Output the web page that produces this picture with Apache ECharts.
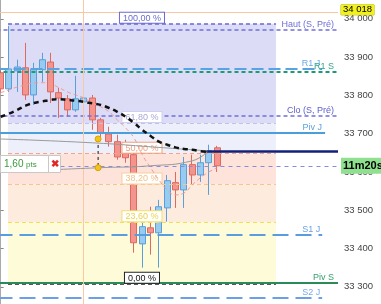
<!DOCTYPE html>
<html><head><meta charset="utf-8">
<script src="https://cdn.jsdelivr.net/npm/echarts@6/dist/echarts.min.js"></script>
<style>html,body{margin:0;padding:0;background:#fff}#c{width:381px;height:304px}</style>
</head><body><div id="c"></div><script>
// ---------- data ----------
const slotCount = 41;
const slots = Array.from({length: slotCount}, (_, i) => 'b' + i);
const yTicks = [33300, 33400, 33500, 33600, 33700, 33800, 33900, 34000];
// [open, close, low, high]
const candles = [
 [33859,33817,33807,33872],
 [33817,33869,33809,33981],
 [33864,33874,33809,33893],
 [33872,33801,33788,33937],
 [33801,33867,33775,33885],
 [33867,33893,33835,33911],
 [33887,33809,33780,33911],
 [33807,33793,33741,33820],
 [33791,33762,33744,33801],
 [33762,33791,33757,33851],
 [33783,33793,33778,33796],
 [33793,33736,33710,33801],
 [33736,33702,33689,33741],
 [33699,33679,33666,33718],
 [33679,33639,33632,33697],
 [33663,33637,33624,33684],
 [33645,33415,33389,33658],
 [33412,33457,33350,33470],
 [33454,33441,33384,33509],
 [33441,33509,33350,33527],
 [33506,33577,33470,33592],
 [33572,33553,33506,33600],
 [33553,33619,33506,33639],
 [33619,33592,33566,33645],
 [33592,33624,33574,33645],
 [33624,33655,33540,33671],
 [33663,33616,33600,33668]
];
const maBlack = [33744,33752,33762,33773,33780,33784,33788,33790,33788,33786,33783,33779,33775,33767,33757,33744,33728,33710,33694,33679,33671,33664,33660,33658,33654,33652];
const maPink  = [33807,33814,33822,33827,33833,33833,33830,33820,33809,33801,33793,33780,33770,33757,33736,33715,33689,33645,33611,33579,33553,33540,33545,33566,33585,33600,33611];
const trendA = [[0,33686],[11,33676],[19,33664],[24.8,33655]];
const trendB = [[5.5,33605],[12,33611],[18,33616],[23,33629],[24.8,33652]];
const levelNames  = ['Haut (S, Pré)','R1 J','R1 S','Clo (S, Pré)','Piv J','S1 J','Piv S','S2 J'];
const levelValues = [33971,33869,33861,33746,33702,33436,33310,33271];
const fibHigh = 33987, fibLow = 33308;
const fibRatios = [1,0.618,0.5,0.382,0.236,0];
const fibLabels = ['100,00 %','61,80 %','50,00 %','38,20 %','23,60 %','0,00 %'];
const fibFrom = 0.88, fibTo = 33.05;
const crossX = 9.9, crossPrice = 34018;
const currentPrice = 33616, countdown = '11m20s';
const navyLevel = 33655, navyFrom = 24.5;
const measureX = 11.7, measureFrom = 33686, measureTo = 33611;
const measureText = '1,60';

// ---------- styles ----------
const fmt = v => String(v).replace(/\B(?=(\d{3})+(?!\d))/g, ' ');
const FONT = 'Arial, "Liberation Sans", sans-serif';
const levelStyle = {
 'Haut (S, Pré)': {color:'#6f6fd8', type:[4,3], width:1.5, end:40.5, lc:'#6f6fd8', d:4},
 'R1 J': {color:'#5aa2e0', type:[12,5], width:2, end:38.6, lc:'#6aa8e6', d:2},
 'R1 S': {color:'#1f9a78', type:[4,3], width:2, end:40.5, lc:'#33a884', d:4},
 'Clo (S, Pré)': {color:'#6f6fd8', type:[4,3], width:1.5, end:40.5, lc:'#6060d0', d:4},
 'Piv J': {color:'#4a9edc', type:'solid', width:2, end:38.95, lc:'#5aa2e0', d:3},
 'S1 J': {color:'#5b9be0', type:[16,7], width:2, end:38.6, lc:'#6aa0e6', d:2},
 'Piv S': {color:'#2a8a5a', type:'solid', width:2, end:40.5, lc:'#34a070', d:4},
 'S2 J': {color:'#6d9fe6', type:[16,7], width:2, end:38.6, lc:'#7aa8ea', d:2}
};
const fibLine = [
 {c:'#6a6ad4', t:'#6a6ad4', b:'#6a6ad4', fill:'#dcdcf6'},
 {c:'#c0c0ea', t:'#a8a8d8', b:'#d0d0f0', fill:'#edf0fb'},
 {c:'#f3a488', t:'#f0a07c', b:'#f0a07c', fill:'#fde3da'},
 {c:'#f5c58e', t:'#f2c184', b:'#f5cf9a', fill:'#fdebdd'},
 {c:'#eede5a', t:'#e8d448', b:'#efe070', fill:'#fefbd8'},
 {c:'#222', t:'#111', b:'#222', fill:null}
];
const fibPrice = r => fibLow + r * (fibHigh - fibLow);

const areas = [];
for (let k = 0; k < fibRatios.length - 1; k++) {
 areas.push([{xAxis: fibFrom, yAxis: fibPrice(fibRatios[k]), itemStyle:{color: fibLine[k].fill}},
             {xAxis: fibTo, yAxis: fibPrice(fibRatios[k+1])}]);
}
const fibMarks = fibRatios.map((r, k) => [
 {coord:[fibFrom, fibPrice(r)], lineStyle:{color: fibLine[k].c, type:[4,3], width: k===0||k===5?1.5:1},
  label:{show:true, position:'middle', formatter: fibLabels[k], color: fibLine[k].t,
   backgroundColor:'#fff', borderColor: fibLine[k].b, borderWidth:1, padding:[1,3,0,3],
   fontSize:9, fontFamily: FONT, distance:1, verticalAlign:'bottom'}},
 {coord:[fibTo, fibPrice(r)]}
]);
const levelMarks = levelNames.map((n, k) => {
 const s = levelStyle[n];
 return [
  {coord:[-0.5, levelValues[k]], lineStyle:{color:s.color, type:s.type, width:s.width},
   label:{show:true, position:'insideEndTop', formatter:n, color:s.lc, fontSize:9, fontFamily:FONT, distance:[s.d,1]}},
  {coord:[s.end, levelValues[k]]}
 ];
});
const extraMarks = [
 [{coord:[-0.5, crossPrice], lineStyle:{color:'#f8c6a0', type:'solid', width:1},
   label:{show:true, position:'end', formatter: fmt(crossPrice), color:'#000', backgroundColor:'#f2f21a',
     borderColor:'#b8b800', borderWidth:0.5, padding:[0,2,0,2], lineHeight:10, fontSize:9.5, fontFamily:FONT,
     distance:3, offset:[0,-2]}},
  {coord:[40.5, crossPrice]}],
 [{coord:[crossX, 34049], lineStyle:{color:'#f8c9a4', type:'solid', width:1}, label:{show:false}},
  {coord:[crossX, 33255]}],
 [{coord:[-0.5, currentPrice], lineStyle:{color:'#8a8ae0', type:[4,4], width:1},
   label:{show:true, position:'end', formatter: countdown, color:'#000', backgroundColor:'#8fe08f',
     padding:[3,2,2,2], fontSize:11, fontWeight:'bold', fontFamily:FONT, distance:3}},
  {coord:[40.5, currentPrice]}],
 [{coord:[navyFrom, navyLevel], lineStyle:{color:'#12207a', type:'solid', width:2.5}, label:{show:false}},
  {coord:[40.5, navyLevel]}]
];

const chart = echarts.init(document.getElementById('c'), null, {renderer:'canvas'});
chart.setOption({
 animation:false,
 backgroundColor:'#fff',
 grid:{left:-3.5, right:43, top:0, bottom:0, containLabel:false, outerBoundsMode:'none'},
 xAxis:[
  {type:'category', data:slots, boundaryGap:true, show:false},
  {type:'value', min:-0.5, max:40.5, show:false}
 ],
 yAxis:{type:'value', position:'right', min:33255, max:34049, scale:true,
  axisLine:{show:true, lineStyle:{color:'#aaa'}},
  axisTick:{show:true, length:3, customValues: yTicks, lineStyle:{color:'#888'}},
  splitLine:{show:false},
  axisPointer:{show:false},
  axisLabel:{show:true, margin:6, color:'#444', fontSize:9.5, fontFamily:FONT,
   customValues: yTicks, hideOverlap:false, formatter: v => fmt(v)}},
 graphic:[
  {type:'group', x:0, y:155, z:100, children:[
   {type:'rect', z:100, shape:{x:0.5,y:0.5,width:48,height:17}, style:{fill:'#fff', stroke:'#c8c8c8', lineWidth:1}},
   {type:'text', z:101, x:4, y:9, style:{text:measureText, fill:'#3a9a3a', font:'10px '+FONT, verticalAlign:'middle'}},
   {type:'text', z:101, x:26, y:10, style:{text:'pts', fill:'#3a9a3a', font:'8px '+FONT, verticalAlign:'middle'}},
   {type:'rect', z:100, shape:{x:48.5,y:0.5,width:12,height:17}, style:{fill:'#fff', stroke:'#c8c8c8', lineWidth:1}},
   {type:'text', z:101, x:54.5, y:9, style:{text:'✖', fill:'#e02828', font:'bold 10px '+FONT, align:'center', verticalAlign:'middle'}}
  ]}
 ],
 series:[
  {type:'line', xAxisIndex:1, data:[], silent:true, z:1,
   markArea:{silent:true, data:areas}},
  {type:'candlestick', xAxisIndex:0, data:candles, barWidth:6.5, z:3,
   itemStyle:{color:'#98cbf0', color0:'#f3948d', borderColor:'#5a9fd8', borderColor0:'#dc6a62', borderWidth:1}},
  {type:'line', xAxisIndex:1, data:[], silent:true, z:10, symbol:'none',
   markLine:{silent:true, symbol:['none','none'], animation:false, data: fibMarks.concat(levelMarks).concat(extraMarks)}},
  {type:'line', xAxisIndex:0, data:maPink, smooth:true, symbol:'none', z:5,
   lineStyle:{color:'#f09a92', width:1, type:[4,3]}},
  {type:'line', xAxisIndex:0, data:maBlack, smooth:true, symbol:'none', z:6,
   lineStyle:{color:'#111', width:2.5, type:[5,4]}},
  {type:'line', xAxisIndex:1, data:trendA, smooth:true, symbol:'none', z:5,
   lineStyle:{color:'#9a9a9a', width:1}},
  {type:'line', xAxisIndex:1, data:trendB, smooth:true, symbol:'none', z:5,
   lineStyle:{color:'#9a9a9a', width:1}},
  {type:'line', xAxisIndex:1, data:[[measureX, measureFrom],[measureX, measureTo]], z:7,
   symbol:'circle', symbolSize:6, itemStyle:{color:'#f5c21b', borderColor:'#d9a400', borderWidth:1},
   lineStyle:{color:'#111', width:1, type:[3,3]}}
 ]
});
</script></body></html>
